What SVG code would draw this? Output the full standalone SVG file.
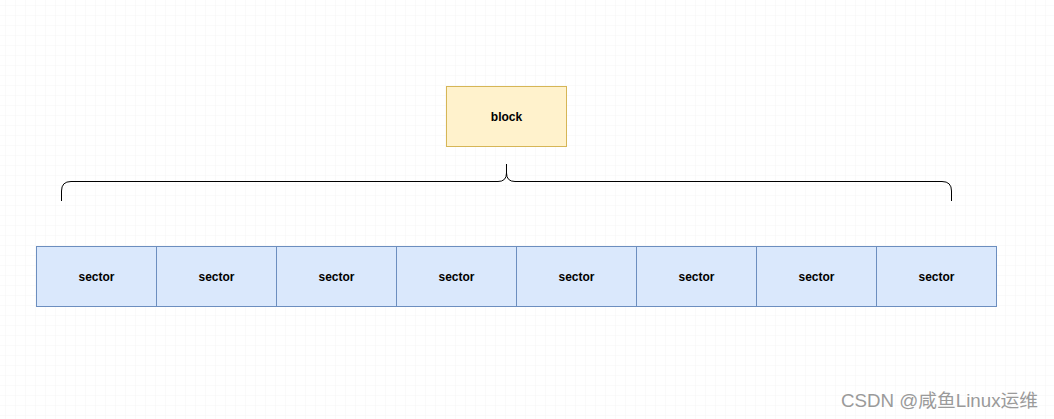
<svg xmlns="http://www.w3.org/2000/svg" width="1054" height="419" viewBox="0 0 1054 419">
<defs>
<pattern id="minor" width="10" height="10" patternUnits="userSpaceOnUse" x="6" y="6">
<path d="M10,0 V10 M0,10 H10" fill="none" stroke="#f5f5f5" stroke-width="1"/>
</pattern>
<pattern id="major" width="40" height="40" patternUnits="userSpaceOnUse" x="-4" y="-4">
<path d="M40.5,0 V40 M0,40.5 H40" fill="none" stroke="#e8e8e8" stroke-width="1"/>
</pattern>
</defs>
<style>
.sector{fill:#dae8fc;stroke:#6c8ebf;stroke-width:1}
.block{fill:#fff2cc;stroke:#d6b656;stroke-width:1}
.lbl{font-family:"Liberation Sans",Arial,sans-serif;font-size:12px;font-weight:bold;fill:#000;text-anchor:middle;dominant-baseline:central}
.brace{fill:none;stroke:#000;stroke-width:1}
</style>
<rect width="1054" height="419" fill="#fff"/>
<rect width="1054" height="419" fill="url(#minor)"/>
<rect width="1054" height="419" fill="url(#major)"/>
<g id="block"><rect class="block" x="446.5" y="86.5" width="120" height="60"/><text class="lbl" x="506.5" y="116.5">block</text></g>
<g id="connectors">
<path class="brace" d="M61.5,201 V191 Q61.5,181.5 71,181.5 H498 Q506.5,181.5 506.5,173 V164 M506.5,173 Q506.5,181.5 515,181.5 H942 Q951.5,181.5 951.5,191 V201"/>
</g>
<g id="sector1"><rect class="sector" x="36.5" y="246.5" width="120" height="60"/><text class="lbl" x="96.5" y="276.5">sector</text></g>
<g id="sector2"><rect class="sector" x="156.5" y="246.5" width="120" height="60"/><text class="lbl" x="216.5" y="276.5">sector</text></g>
<g id="sector3"><rect class="sector" x="276.5" y="246.5" width="120" height="60"/><text class="lbl" x="336.5" y="276.5">sector</text></g>
<g id="sector4"><rect class="sector" x="396.5" y="246.5" width="120" height="60"/><text class="lbl" x="456.5" y="276.5">sector</text></g>
<g id="sector5"><rect class="sector" x="516.5" y="246.5" width="120" height="60"/><text class="lbl" x="576.5" y="276.5">sector</text></g>
<g id="sector6"><rect class="sector" x="636.5" y="246.5" width="120" height="60"/><text class="lbl" x="696.5" y="276.5">sector</text></g>
<g id="sector7"><rect class="sector" x="756.5" y="246.5" width="120" height="60"/><text class="lbl" x="816.5" y="276.5">sector</text></g>
<g id="sector8"><rect class="sector" x="876.5" y="246.5" width="120" height="60"/><text class="lbl" x="936.5" y="276.5">sector</text></g>
<text x="841" y="407" textLength="197" lengthAdjust="spacingAndGlyphs" font-family="'Liberation Sans','Noto Sans CJK SC',sans-serif" font-size="18.5" fill="#9a9a9a">CSDN @咸鱼Linux运维</text>
</svg>
